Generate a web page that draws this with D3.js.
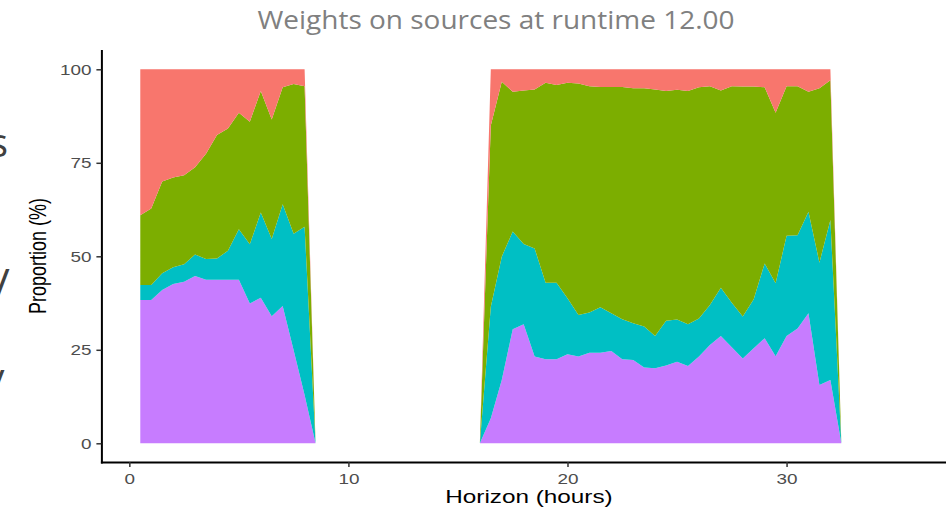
<!DOCTYPE html>
<html>
<head>
<meta charset="utf-8">
<script src="https://d3js.org/d3.v7.min.js"></script>
<style>
  html, body { margin: 0; padding: 0; background: #fff; }
  svg { display: block; }
</style>
</head>
<body>
<svg width="946" height="509"></svg>
<script>
// horizon steps (hours)
const hours = [0.5, 1, 1.5, 2, 2.5, 3, 3.5, 4, 4.5, 5, 5.5, 6, 6.5, 7, 7.5, 8,
  8.5, 9, 9.5, 10, 10.5, 11, 11.5, 12, 12.5, 13, 13.5, 14, 14.5, 15, 15.5, 16,
  16.5, 17, 17.5, 18, 18.5, 19, 19.5, 20, 20.5, 21, 21.5, 22, 22.5, 23, 23.5, 24,
  24.5, 25, 25.5, 26, 26.5, 27, 27.5, 28, 28.5, 29, 29.5, 30, 30.5, 31, 31.5, 32,
  32.5, 33, 33.5, 34, 34.5, 35, 35.5, 36];

// weights per source (%)
const sourceA = [39.0, 37.2, 30.0, 28.9, 28.3, 26.2, 22.6, 17.6, 15.8, 11.6, 14.0, 5.8, 13.4, 4.8, 3.9, 4.5,
  0, 0, 0, 0, 0, 0, 0, 0, 0, 0, 0, 0, 0, 0, 0, 0,
  15.0, 3.3, 6.0, 5.7, 5.4, 3.6, 4.2, 3.6, 3.8, 4.5, 4.7, 4.7, 4.7, 5.1, 5.1, 5.4,
  5.8, 5.5, 5.8, 4.8, 4.5, 5.7, 4.5, 4.6, 4.6, 4.8, 11.6, 4.5, 4.5, 6.0, 5.1, 2.9,
  0, 0, 0, 0, 0, 0, 0, 0];
const sourceB = [18.7, 20.5, 24.5, 24.0, 23.8, 23.3, 28.1, 33.0, 32.7, 31.2, 32.8, 32.5, 32.0, 31.3, 40.1, 37.6,
  0, 0, 0, 0, 0, 0, 0, 0, 0, 0, 0, 0, 0, 0, 0, 0,
  48.5, 46.8, 37.4, 41.0, 42.5, 53.5, 52.9, 57.6, 61.9, 60.5, 58.9, 60.5, 62.1, 62.8, 63.7, 65.9,
  61.4, 61.4, 62.4, 61.8, 58.5, 52.7, 57.9, 61.5, 56.9, 47.1, 45.6, 40.0, 39.9, 32.1, 46.6, 37.4,
  0, 0, 0, 0, 0, 0, 0, 0];
const sourceC = [4.0, 4.0, 4.5, 4.5, 4.7, 5.8, 5.6, 5.7, 7.8, 13.5, 15.8, 22.8, 20.6, 27.2, 31.1, 45.0,
  0, 0, 0, 0, 0, 0, 0, 0, 0, 0, 0, 0, 0, 0, 0, 0,
  29.8, 33.0, 26.1, 21.5, 28.9, 20.4, 20.4, 15.0, 11.1, 10.8, 12.2, 10.1, 10.7, 9.8, 10.9, 8.6,
  12.0, 11.3, 11.1, 10.2, 10.7, 12.9, 11.9, 11.2, 13.1, 20.0, 19.5, 26.8, 24.9, 27.1, 32.7, 42.8,
  0, 0, 0, 0, 0, 0, 0, 0];
const sourceD = [38.3, 38.3, 41.0, 42.6, 43.2, 44.7, 43.7, 43.7, 43.7, 43.7, 37.4, 38.9, 34.0, 36.7, 24.9, 12.9,
  0, 0, 0, 0, 0, 0, 0, 0, 0, 0, 0, 0, 0, 0, 0, 0,
  6.7, 16.9, 30.5, 31.8, 23.2, 22.5, 22.5, 23.8, 23.2, 24.2, 24.2, 24.7, 22.5, 22.3, 20.3, 20.1,
  20.8, 21.8, 20.7, 23.2, 26.3, 28.7, 25.7, 22.7, 25.4, 28.1, 23.3, 28.7, 30.7, 34.8, 15.6, 16.9,
  0, 0, 0, 0, 0, 0, 0, 0];

const xTicks = [0, 10, 20, 30];
const yTicks = [0, 25, 50, 75, 100];

const titleText = "Weights on sources at runtime 12.00";
const xTitle = "Horizon (hours)";
const yTitle = "Proportion (%)";

// bottom of the stack first
const keys = ["D", "C", "B", "A"];
const colors = { A: "#F8766D", B: "#7CAE00", C: "#00BFC4", D: "#C77CFF" };

const rows = hours.map((h, i) => ({
    hour: h, A: sourceA[i], B: sourceB[i], C: sourceC[i], D: sourceD[i]
}));

const svg = d3.select("svg");

// ggplot style 5% expansion on both axes
const xExt = d3.extent(hours);
const xPad = (xExt[1] - xExt[0]) * 0.05;
const x = d3.scaleLinear()
    .domain([xExt[0] - xPad, xExt[1] + xPad])
    .range([101.4, 956.9]);
const y = d3.scaleLinear()
    .domain([-5, 105])
    .range([462, 50.6]);

const series = d3.stack().keys(keys)(rows);

const area = d3.area()
    .x(d => x(d.data.hour))
    .y0(d => y(d[0]))
    .y1(d => y(d[1]));

svg.append("g")
    .selectAll("path")
    .data(series)
    .join("path")
    .attr("fill", d => colors[d.key])
    .attr("d", area);

// stretch text horizontally like the original picture
function stretchText(sel, k) {
    sel.each(function () {
        const t = d3.select(this);
        const tx = +t.attr("x") || 0;
        t.attr("x", 0).attr("transform", `translate(${tx},0) scale(${k},1)`);
    });
}

const yAxis = svg.append("g")
    .attr("transform", `translate(${x.range()[0]},0)`)
    .call(d3.axisLeft(y).tickValues(yTicks).tickSize(5).tickSizeOuter(0).tickPadding(5));
const xAxis = svg.append("g")
    .attr("transform", `translate(0,${y.range()[0]})`)
    .call(d3.axisBottom(x).tickValues(xTicks).tickSize(5).tickSizeOuter(0).tickPadding(6));

[xAxis, yAxis].forEach(g => {
    g.select(".domain").attr("stroke", "#000").attr("stroke-width", 2).attr("stroke-linecap", "square");
    g.selectAll(".tick line").attr("stroke", "#333").attr("stroke-width", 1.5);
    g.selectAll(".tick text")
        .attr("fill", "#4d4d4d")
        .style("font-family", "'Liberation Sans', Arial, sans-serif")
        .style("font-size", "15.5px");
});
stretchText(yAxis.selectAll(".tick text"), 1.22);
stretchText(xAxis.selectAll(".tick text"), 1.22);

svg.append("text")
    .attr("transform", "translate(529,503) scale(1.35,1)")
    .attr("text-anchor", "middle")
    .style("font-family", "'Liberation Sans', Arial, sans-serif")
    .style("font-size", "18px")
    .attr("fill", "#000")
    .text(xTitle);

svg.append("text")
    .attr("transform", "translate(46,256) rotate(-90) scale(1,1.35)")
    .attr("text-anchor", "middle")
    .style("font-family", "'Liberation Sans', Arial, sans-serif")
    .style("font-size", "18px")
    .attr("fill", "#000")
    .text(yTitle);

// slide title
svg.append("text")
    .attr("x", 496)
    .attr("y", 29)
    .attr("text-anchor", "middle")
    .attr("textLength", 477)
    .attr("lengthAdjust", "spacingAndGlyphs")
    .style("font-family", "'Open Sans', sans-serif")
    .style("font-size", "25px")
    .attr("fill", "#808080")
    .text(titleText);

// cut-off slide text on the left edge
const leftBits = [
    { t: "s", x: 8, y: 157, size: 40 },
    { t: "/", x: 10, y: 300, size: 44 },
    { t: "/", x: 5, y: 401, size: 44 }
];
svg.append("g")
    .selectAll("text")
    .data(leftBits)
    .join("text")
    .attr("x", d => d.x)
    .attr("y", d => d.y)
    .attr("text-anchor", "end")
    .style("font-family", "'Open Sans', sans-serif")
    .style("font-size", d => d.size + "px")
    .attr("fill", "#404040")
    .text(d => d.t);
</script>
</body>
</html>
